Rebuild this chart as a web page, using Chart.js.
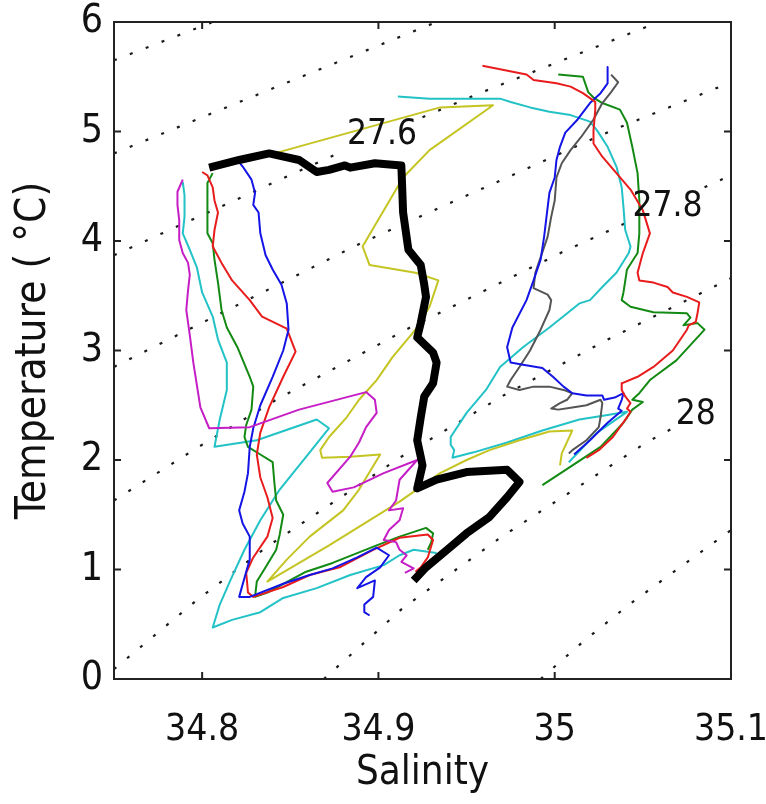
<!DOCTYPE html>
<html>
<head>
<title>T-S diagram</title>
<script src="https://cdn.jsdelivr.net/npm/chart.js@4.4.0/dist/chart.umd.min.js"></script>
<style>
  body { margin: 0; background: #fff; }
  #wrap { width: 766px; height: 804px; }
</style>
</head>
<body>
<div id="wrap"><canvas id="ts"></canvas></div>
<script>
// profiles as [salinity, temperature] pairs
const blackProf = [[34.804,4.67],[34.821,4.74],[34.838,4.80],[34.855,4.74],[34.865,4.63],[34.872,4.65],[34.881,4.69],[34.884,4.67],[34.898,4.71],[34.913,4.69],[34.914,4.26],[34.917,3.92],[34.924,3.78],[34.926,3.60],[34.927,3.49],[34.924,3.25],[34.922,3.12],[34.931,2.98],[34.933,2.89],[34.931,2.70],[34.926,2.58],[34.924,2.39],[34.922,2.18],[34.924,2.03],[34.925,1.95],[34.922,1.74],[34.933,1.82],[34.950,1.89],[34.973,1.91],[34.980,1.80],[34.973,1.66],[34.963,1.48],[34.950,1.33],[34.939,1.18],[34.927,1.02],[34.920,0.90]];

const yellowProf = [[34.841,4.80],[34.935,5.22],[34.965,5.24],[34.929,4.83],[34.914,4.58],[34.891,3.95],[34.895,3.78],[34.921,3.71],[34.934,3.64],[34.929,3.40],[34.921,3.19],[34.908,2.94],[34.899,2.73],[34.889,2.55],[34.882,2.39],[34.872,2.21],[34.867,2.09],[34.868,2.02],[34.884,2.03],[34.901,2.05],[34.889,1.73],[34.880,1.54],[34.861,1.30],[34.848,1.09],[34.837,0.89],[34.872,1.22],[34.912,1.62],[34.935,1.88],[34.950,2.00],[34.963,2.09],[34.980,2.18],[34.997,2.26],[35.010,2.27],[35.004,2.06],[35.003,1.95]];

const magentaProf = [[34.789,4.56],[34.786,4.45],[34.786,4.33],[34.787,4.19],[34.787,4.01],[34.789,3.89],[34.792,3.80],[34.793,3.69],[34.792,3.55],[34.791,3.37],[34.793,3.14],[34.795,2.89],[34.799,2.48],[34.804,2.29],[34.827,2.30],[34.855,2.46],[34.893,2.62],[34.898,2.55],[34.899,2.43],[34.893,2.30],[34.889,2.16],[34.884,2.03],[34.871,1.79],[34.874,1.71],[34.886,1.75],[34.903,1.88],[34.922,2.00],[34.912,1.82],[34.910,1.63],[34.906,1.54],[34.914,1.56],[34.912,1.45],[34.906,1.36],[34.903,1.27],[34.910,1.25],[34.912,1.18],[34.916,1.13],[34.913,1.07],[34.920,1.01],[34.915,0.97]];

const cyanWest = [[34.789,4.54],[34.790,4.42],[34.790,4.22],[34.789,4.07],[34.793,3.92],[34.797,3.76],[34.800,3.53],[34.806,3.31],[34.809,3.10],[34.814,2.89],[34.814,2.64],[34.810,2.37],[34.807,2.12],[34.831,2.18],[34.865,2.37],[34.872,2.29],[34.861,2.07],[34.844,1.73],[34.833,1.45],[34.824,1.18],[34.816,0.90],[34.810,0.68],[34.806,0.47],[34.817,0.54],[34.833,0.61],[34.846,0.74],[34.865,0.83],[34.884,0.95],[34.903,1.04],[34.912,1.13],[34.920,1.18],[34.933,1.15]];

const greenWest = [[34.806,4.62],[34.803,4.53],[34.803,4.37],[34.803,4.07],[34.806,3.98],[34.807,3.83],[34.809,3.62],[34.811,3.37],[34.814,3.21],[34.820,3.03],[34.827,2.76],[34.829,2.67],[34.828,2.46],[34.825,2.32],[34.824,2.21],[34.826,2.12],[34.833,2.05],[34.840,1.98],[34.841,1.79],[34.842,1.63],[34.846,1.50],[34.844,1.32],[34.842,1.18],[34.836,1.02],[34.831,0.89],[34.830,0.75],[34.837,0.79],[34.859,0.98],[34.874,1.06],[34.899,1.22],[34.912,1.30],[34.927,1.38],[34.931,1.33],[34.930,1.25],[34.928,1.18]];

const redWest = [[34.800,4.63],[34.803,4.60],[34.806,4.49],[34.807,4.37],[34.809,4.26],[34.807,4.10],[34.806,3.95],[34.811,3.80],[34.817,3.64],[34.827,3.46],[34.834,3.31],[34.848,3.20],[34.853,2.99],[34.846,2.76],[34.838,2.48],[34.833,2.25],[34.831,2.05],[34.833,1.84],[34.837,1.66],[34.840,1.47],[34.837,1.30],[34.829,1.11],[34.825,0.97],[34.826,0.79],[34.829,0.75],[34.846,0.84],[34.861,0.95],[34.878,1.02],[34.897,1.18],[34.912,1.29],[34.928,1.32],[34.931,1.27],[34.928,1.11],[34.924,1.02],[34.921,0.98]];

const blueWest = [[34.819,4.76],[34.823,4.68],[34.828,4.56],[34.830,4.44],[34.829,4.33],[34.832,4.26],[34.833,4.07],[34.836,3.87],[34.840,3.74],[34.845,3.60],[34.848,3.43],[34.849,3.19],[34.846,3.00],[34.840,2.76],[34.833,2.50],[34.829,2.29],[34.827,2.12],[34.826,1.88],[34.824,1.71],[34.821,1.54],[34.823,1.42],[34.827,1.30],[34.827,1.09],[34.825,0.98],[34.821,0.75],[34.827,0.75],[34.846,0.87],[34.861,0.95],[34.874,1.01],[34.888,1.11],[34.899,1.20],[34.906,1.13],[34.901,1.02],[34.893,0.93],[34.888,0.83],[34.898,0.90],[34.897,0.75],[34.892,0.68],[34.892,0.61],[34.895,0.58]];

const redEast = [[34.959,5.60],[34.984,5.52],[34.988,5.47],[35.001,5.44],[35.009,5.41],[35.016,5.35],[35.023,5.27],[35.023,5.20],[35.022,5.01],[35.022,4.89],[35.027,4.77],[35.035,4.62],[35.043,4.47],[35.050,4.28],[35.054,4.07],[35.050,3.89],[35.047,3.71],[35.048,3.64],[35.056,3.62],[35.064,3.58],[35.067,3.53],[35.075,3.49],[35.082,3.44],[35.081,3.34],[35.080,3.26],[35.076,3.23],[35.075,3.19],[35.067,3.00],[35.056,2.85],[35.047,2.76],[35.038,2.70],[35.038,2.64],[35.040,2.58],[35.043,2.52],[35.041,2.47],[35.043,2.44],[35.041,2.39],[35.033,2.21],[35.025,2.09],[35.018,2.02]];

const greenEast = [[35.002,5.52],[35.016,5.50],[35.019,5.36],[35.022,5.31],[35.027,5.26],[35.037,5.20],[35.041,5.08],[35.044,4.86],[35.047,4.62],[35.048,4.37],[35.048,4.07],[35.047,3.89],[35.041,3.74],[35.039,3.53],[35.038,3.46],[35.043,3.40],[35.056,3.35],[35.075,3.34],[35.077,3.30],[35.073,3.23],[35.081,3.25],[35.085,3.19],[35.069,2.91],[35.054,2.73],[35.048,2.61],[35.044,2.55],[35.050,2.53],[35.044,2.46],[35.039,2.34],[35.026,2.12],[35.009,1.94],[34.993,1.77]];

const blueEast = [[35.030,5.59],[35.030,5.44],[35.026,5.35],[35.020,5.26],[35.013,5.11],[35.006,4.99],[35.003,4.86],[35.001,4.74],[35.000,4.58],[34.997,4.44],[34.996,4.31],[34.994,4.04],[34.992,3.83],[34.988,3.64],[34.984,3.46],[34.976,3.21],[34.973,3.03],[34.975,2.89],[34.982,2.87],[34.993,2.84],[34.999,2.76],[35.005,2.67],[35.010,2.61],[35.018,2.59],[35.027,2.59],[35.028,2.55],[35.034,2.57],[35.039,2.61],[35.038,2.55],[35.036,2.47],[35.038,2.45],[35.030,2.34],[35.020,2.18],[35.011,2.05]];

const grayEast = [[35.032,5.52],[35.036,5.45],[35.032,5.36],[35.027,5.26],[35.022,5.11],[35.015,4.95],[35.009,4.83],[35.004,4.71],[35.001,4.58],[35.000,4.37],[34.998,4.22],[34.996,4.04],[34.992,3.85],[34.989,3.71],[34.988,3.57],[34.996,3.51],[34.998,3.46],[34.997,3.37],[34.992,3.19],[34.986,3.00],[34.980,2.85],[34.975,2.73],[34.973,2.67],[34.980,2.64],[34.988,2.67],[34.997,2.67],[35.005,2.64],[35.010,2.61],[35.007,2.55],[35.003,2.52],[34.998,2.47],[35.002,2.46],[35.010,2.48],[35.018,2.50],[35.026,2.55],[35.027,2.52],[35.026,2.39],[35.025,2.30],[35.018,2.18],[35.010,2.09],[35.008,2.06]];

const cyanEast = [[34.911,5.32],[34.929,5.30],[34.948,5.30],[34.969,5.30],[34.975,5.27],[34.986,5.22],[34.997,5.18],[35.009,5.15],[35.020,5.09],[35.024,5.01],[35.030,4.86],[35.035,4.68],[35.038,4.49],[35.039,4.31],[35.040,4.10],[35.043,3.95],[35.042,3.89],[35.035,3.71],[35.027,3.58],[35.020,3.46],[35.014,3.43],[34.997,3.21],[34.982,3.03],[34.969,2.85],[34.961,2.64],[34.950,2.43],[34.941,2.21],[34.941,2.14],[34.943,2.09],[34.942,2.02],[34.954,2.07],[34.973,2.16],[34.993,2.27],[35.014,2.37],[35.030,2.41],[35.041,2.44],[35.024,2.25],[35.008,1.98]];

// sigma-theta isopycnals (27.4 ... 28.1); null = break under a contour label
const sig274 = [[34.750,5.65],[34.806,6.00]];
const sig275 = [[34.750,4.80],[34.844,5.42],[34.933,6.00]];
const sig276 = [[34.750,3.87],[34.877,4.80],null,[34.925,5.13],[34.959,5.36],[35.059,6.00]];
const sig277 = [[34.750,2.85],[34.890,3.98],[35.031,5.00],[35.100,5.45]];
const sig278 = [[34.750,1.63],[34.797,2.11],[34.842,2.55],[34.918,3.21],[35.007,3.92],[35.044,4.19],null,[35.085,4.49],[35.100,4.60]];
const sig279 = [[34.750,0.09],[34.797,0.72],[34.837,1.21],[34.913,2.03],[34.971,2.59],[35.030,3.10],[35.100,3.66]];
const sig280 = [[34.869,0.00],[34.914,0.65],[34.970,1.30],[35.052,2.16],[35.067,2.29]];
const sig281 = [[34.992,0.00],[35.016,0.34],[35.043,0.69],[35.100,1.36]];

const isoLabels = ['27.6', '27.8', '28'];
const isoLabelS = [34.902, 35.064, 35.080];
const isoLabelT = [4.97, 4.31, 2.41];

const salTicks = [34.8, 34.9, 35, 35.1];
const tempTicks = [0, 1, 2, 3, 4, 5, 6];

const FONT = "'DejaVu Sans Condensed', 'Liberation Sans', sans-serif";

function pts(arr) {
  return arr.map(p => p ? { x: p[0], y: p[1] } : { x: null, y: null });
}

function profile(arr, color, width) {
  return {
    data: pts(arr),
    showLine: true,
    borderColor: color,
    borderWidth: width || 2,
    pointRadius: 0,
    tension: 0,
    fill: false,
    borderJoinStyle: 'round'
  };
}

function isopycnal(arr) {
  return {
    data: pts(arr),
    showLine: true,
    borderColor: '#1a1a1a',
    borderWidth: 2.2,
    borderDash: [3, 14],
    pointRadius: 0,
    tension: 0,
    fill: false,
    spanGaps: false
  };
}

// frame, inward ticks and contour labels
const boxPlugin = {
  id: 'box',
  afterDatasetsDraw(chart) {
    const { ctx, chartArea: a, scales: { x, y } } = chart;
    ctx.save();
    ctx.fillStyle = '#111';
    ctx.font = '35px ' + FONT;
    ctx.textAlign = 'center';
    ctx.textBaseline = 'middle';
    isoLabels.forEach((t, i) => {
      ctx.fillText(t, x.getPixelForValue(isoLabelS[i]), y.getPixelForValue(isoLabelT[i]));
    });

    ctx.strokeStyle = '#222';
    ctx.lineWidth = 2;
    ctx.strokeRect(a.left, a.top, a.width, a.height);
    const tl = 7;
    ctx.beginPath();
    salTicks.forEach(v => {
      const px = x.getPixelForValue(v);
      ctx.moveTo(px, a.bottom); ctx.lineTo(px, a.bottom - tl);
      ctx.moveTo(px, a.top); ctx.lineTo(px, a.top + tl);
    });
    tempTicks.forEach(v => {
      const py = y.getPixelForValue(v);
      ctx.moveTo(a.left, py); ctx.lineTo(a.left + tl, py);
      ctx.moveTo(a.right, py); ctx.lineTo(a.right - tl, py);
    });
    ctx.stroke();
    ctx.restore();
  }
};

new Chart(document.getElementById('ts'), {
  type: 'scatter',
  data: {
    datasets: [
      profile(blackProf, '#000000', 8),
      profile(magentaProf, '#c61ec6'),
      profile(yellowProf, '#c4c423'),
      profile(blueWest, '#1414e6'),
      profile(redWest, '#e81c1c'),
      profile(greenWest, '#138a13'),
      profile(cyanWest, '#22c2c6'),
      profile(redEast, '#e81c1c'),
      profile(blueEast, '#1414e6'),
      profile(grayEast, '#555555'),
      profile(greenEast, '#138a13'),
      profile(cyanEast, '#22c2c6'),
      isopycnal(sig274),
      isopycnal(sig275),
      isopycnal(sig276),
      isopycnal(sig277),
      isopycnal(sig278),
      isopycnal(sig279),
      isopycnal(sig280),
      isopycnal(sig281)
    ]
  },
  options: {
    responsive: true,
    maintainAspectRatio: false,
    animation: false,
    layout: { padding: { top: 22, right: 35, left: 0, bottom: 0 } },
    plugins: { legend: { display: false }, tooltip: { enabled: false } },
    scales: {
      x: {
        type: 'linear',
        min: 34.75,
        max: 35.1,
        grid: { display: false, drawTicks: false },
        border: { display: false },
        afterBuildTicks: s => { s.ticks = salTicks.map(v => ({ value: v })); },
        afterFit: s => { s.height = 125; s.paddingLeft = 0; s.paddingRight = 0; },
        ticks: {
          color: '#111',
          padding: 33,
          maxRotation: 0,
          font: { size: 37, family: FONT, lineHeight: 1 },
          callback: v => String(Math.round(v * 10) / 10)
        },
        title: {
          display: true,
          text: 'Salinity',
          color: '#111',
          font: { size: 40, family: FONT, lineHeight: 1.2 },
          padding: { top: 0, bottom: 6 }
        }
      },
      y: {
        type: 'linear',
        min: 0,
        max: 6,
        grid: { display: false, drawTicks: false },
        border: { display: false },
        afterBuildTicks: s => { s.ticks = tempTicks.map(v => ({ value: v })); },
        afterFit: s => { s.width = 114; s.paddingTop = 0; s.paddingBottom = 0; },
        ticks: {
          color: '#111',
          padding: 11,
          font: { size: 39, family: FONT, lineHeight: 1 },
          callback: v => String(v)
        },
        title: {
          display: true,
          text: 'Temperature ( °C)',
          color: '#111',
          font: { size: 42, family: FONT, lineHeight: 1.2 },
          padding: { top: 9, bottom: 0 }
        }
      }
    }
  },
  plugins: [boxPlugin]
});
</script>
</body>
</html>
